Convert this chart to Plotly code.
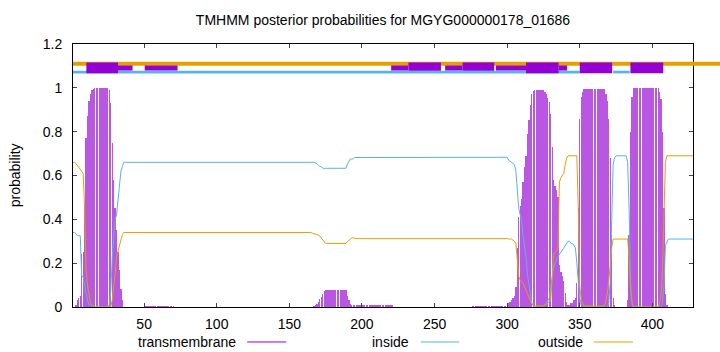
import plotly.graph_objects as go

# ---------------- data ----------------
RESIDUES = list(range(1, 429))

TRANSMEMBRANE = (
    [0, 0, .01, .03, .04, .05, .24, .25, .45, .77, .87, .94, .97, .99, .995]
    + [1.0] * 10
    + [.99, .93, .75, .58, .45, .35, .25, .17, .08, .03, 0]
    + [0] * 13
    + [.003] * 21
    + [0] * 95
    + [.002, .005, .01, .015, .025, .035, .045, .06, .075]
    + [.077] * 15
    + [.05, .03, .015, .01, .008]
    + [.008] * 27
    + [.001] * 54
    + [.005] * 25
    + [.02, .025, .03, .04, .05, .09, .27, .41, .46, .495]
    + [.57, .64, .69, .79, .855, .92, .97, .985]
    + [.99] * 7
    + [.98, .97, .955, .935, .88, .73, .58, .55, .535, .50]
    + [.19, .16, .14, .12, .065, .025, .01, .01, .02, .02, .03, .04]
    + [.11, .45, .86, .96, .98]
    + [.995] * 15
    + [.97, .94, .86, .68, .33, .04, .01]
    + [0] * 8
    + [.03, .33, .80, .96]
    + [1.0] * 18
    + [.98, .95, .80, .45, .06, .01]
    + [0] * 18
)

INSIDE = (
    [.34, .34, .335, .325, .325, .325, .14, .14, .10, .06, .03, .01, .01, 0, 0]
    + [0] * 10
    + [.01, .07, .22, .34, .40, .42, .495, .56, .62, .64, .66]
    + [.66] * 129
    + [.662, .66, .657, .654, .647, .641, .64, .635, .63]
    + [.633] * 15
    + [.652, .665, .675, .675, .676]
    + [.682] * 27
    + [.684] * 54
    + [.683] * 25
    + [.67, .665, .66, .655, .65, .62, .53, .45, .42, .39]
    + [.32, .27, .23, .15, .10, .05, .015, .005]
    + [0] * 7
    + [.01, .02, .025, .04, .09, .14, .18, .20, .21, .23]
    + [.24, .25, .26, .27, .285, .295, .30, .30, .29, .29, .28, .27]
    + [.20, .10, .04, .01, 0]
    + [0] * 15
    + [0, 0, .02, .12, .40, .65, .68]
    + [.69] * 8
    + [.66, .45, .12, .02]
    + [0] * 18
    + [0, 0, .02, .10, .28, .30]
    + [.31] * 18
)

OUTSIDE = (
    [.66, .66, .655, .645, .635, .625, .62, .61, .45, .17, .10, .05, .02, .01, .005]
    + [0] * 10
    + [0, 0, .03, .08, .15, .23, .255, .27, .30, .33, .34]
    + [.34] * 129
    + [.336, .335, .333, .331, .328, .324, .315, .305, .295]
    + [.29] * 15
    + [.298, .305, .31, .315, .316]
    + [.312] * 27
    + [.315] * 54
    + [.312] * 25
    + [.31, .31, .31, .305, .30, .29, .20, .14, .12, .115]
    + [.11, .09, .08, .06, .045, .03, .015, .01]
    + [.005] * 7
    + [.01, .01, .02, .025, .03, .13, .24, .25, .255, .27]
    + [.57, .59, .60, .61, .65, .68, .69, .69, .69, .69, .69, .69]
    + [.69, .45, .10, .03, .02]
    + [.005] * 15
    + [.03, .06, .12, .20, .27, .31, .31]
    + [.31] * 8
    + [.31, .22, .08, .02]
    + [0] * 18
    + [.02, .05, .18, .45, .66, .69]
    + [.69] * 18
)

# top topology annotation (residue spans, probability-axis levels)
OUTSIDE_LEVEL = 1.11
INSIDE_LEVEL = 1.072
INSIDE_SPANS = [(1, 350), (373, 384.4)]
TM_FULL_BOXES = [(10.2, 32.0), (313.0, 335.5), (350.0, 372.3), (384.9, 407.5)]
TM_UPPER_BOXES = [(232.0, 254.4), (269.3, 291.1)]
TM_THIN_BOXES = [(32.0, 42.0), (50.4, 73.0), (220.1, 232.0), (257.3, 269.3),
                 (292.3, 313.0), (335.5, 341.3)]
FULL_Y = (1.067, 1.116)
UPPER_Y = (1.078, 1.116)
THIN_Y = (1.079, 1.102)

X_RANGE = [1, 428]
Y_RANGE = [0, 1.2]
X_TICKS = [50, 100, 150, 200, 250, 300, 350, 400]
Y_TICKS = [0, 0.2, 0.4, 0.6, 0.8, 1.0, 1.2]
Y_TICK_TEXT = ["0", "0.2", "0.4", "0.6", "0.8", "1", "1.2"]

TITLE = "TMHMM posterior probabilities for MGYG000000178_01686"
LEGEND_NAMES = ["transmembrane", "inside", "outside"]

PURPLE = "#9400D3"
BLUE = "#56B4E9"
ORANGE = "#E69F00"
FONT = "Liberation Sans, Arial, Helvetica, sans-serif"

# ---------------- figure ----------------
fig = go.Figure()
fig.add_trace(go.Bar(x=RESIDUES, y=TRANSMEMBRANE, width=0.88,
                     marker=dict(color="rgba(148,0,211,0.66)", line=dict(width=0)),
                     name=LEGEND_NAMES[0], showlegend=False))
fig.add_trace(go.Scatter(x=RESIDUES, y=INSIDE, mode="lines",
                         line=dict(color=BLUE, width=1), name=LEGEND_NAMES[1],
                         showlegend=False))
fig.add_trace(go.Scatter(x=RESIDUES, y=OUTSIDE, mode="lines",
                         line=dict(color=ORANGE, width=1), name=LEGEND_NAMES[2],
                         showlegend=False))

shapes = []
# outside line (extends beyond the right frame as in the reference)
shapes.append(dict(type="line", xref="paper", yref="paper", x0=0, x1=1.1,
                   y0=OUTSIDE_LEVEL / Y_RANGE[1], y1=OUTSIDE_LEVEL / Y_RANGE[1],
                   line=dict(color=ORANGE, width=4)))
for a, b in INSIDE_SPANS:
    shapes.append(dict(type="line", xref="x", yref="y", x0=a, x1=b,
                       y0=INSIDE_LEVEL, y1=INSIDE_LEVEL,
                       line=dict(color=BLUE, width=2.7)))
for boxes, (ya, yb) in ((TM_THIN_BOXES, THIN_Y), (TM_UPPER_BOXES, UPPER_Y),
                        (TM_FULL_BOXES, FULL_Y)):
    for a, b in boxes:
        shapes.append(dict(type="rect", xref="x", yref="y", x0=a, x1=b,
                           y0=ya, y1=yb, fillcolor=PURPLE,
                           line=dict(width=0)))

# legend (gnuplot style: text then sample line)
legend_pos = [(0.266, 0.281, 0.344), (0.545, 0.561, 0.623), (0.826, 0.840, 0.903)]
legend_cols = [PURPLE, BLUE, ORANGE]
annotations = []
LEG_Y = -0.133
for name, (tx, l0, l1), col in zip(LEGEND_NAMES, legend_pos, legend_cols):
    annotations.append(dict(text=name, xref="paper", yref="paper", x=tx, y=LEG_Y,
                            xanchor="right", yanchor="middle", showarrow=False,
                            font=dict(family=FONT, size=14, color="black")))
    shapes.append(dict(type="line", xref="paper", yref="paper", x0=l0, x1=l1,
                       y0=LEG_Y, y1=LEG_Y, line=dict(color=col, width=1)))

annotations.append(dict(text="probability", xref="paper", yref="paper",
                        x=-0.094, y=0.5, textangle=-90, xanchor="center",
                        yanchor="middle", showarrow=False,
                        font=dict(family=FONT, size=14, color="black")))

fig.update_layout(
    width=720, height=352,
    margin=dict(l=73, r=27, t=44, b=45),
    paper_bgcolor="white", plot_bgcolor="white",
    font=dict(family=FONT, size=14, color="black"),
    title=dict(text=TITLE, x=0.5, xref="paper", y=1 - 20 / 352, yref="container",
               xanchor="center", yanchor="middle",
               font=dict(family=FONT, size=14, color="black")),
    showlegend=False,
    shapes=shapes,
    annotations=annotations,
    bargap=0,
)
fig.update_xaxes(range=X_RANGE, tickvals=X_TICKS, ticks="inside", ticklen=4,
                 tickcolor="#444", mirror="ticks", showline=True,
                 linecolor="black", linewidth=1, showgrid=False, zeroline=False,
                 ticklabelstandoff=4)
fig.update_yaxes(range=Y_RANGE, tickvals=Y_TICKS, ticktext=Y_TICK_TEXT,
                 ticks="inside", ticklen=4, tickcolor="#444", mirror="ticks",
                 showline=True, linecolor="black", linewidth=1, showgrid=False,
                 zeroline=False, ticklabelstandoff=7)

fig.write_html("out.html")
